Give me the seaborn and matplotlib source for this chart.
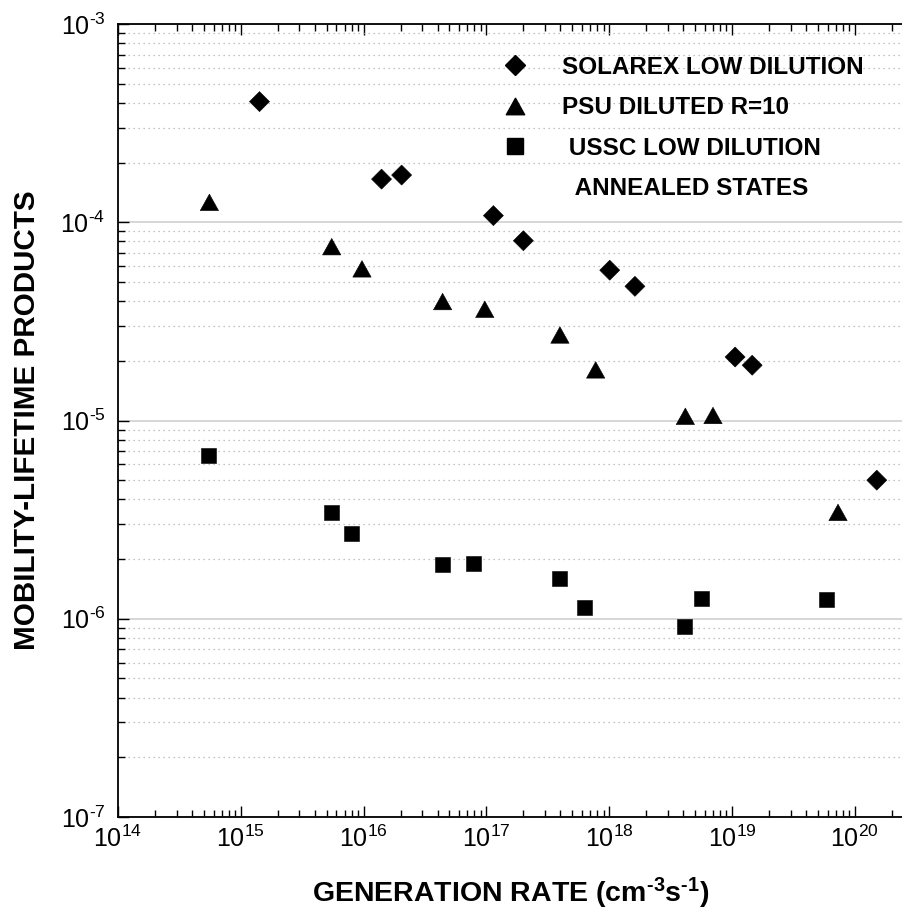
import numpy as np
import pandas as pd
import matplotlib
matplotlib.use("Agg")
import matplotlib.pyplot as plt
import seaborn as sns
from matplotlib.path import Path
from matplotlib.lines import Line2D
from matplotlib.ticker import LogLocator, NullFormatter, FuncFormatter

# ---- data ----
series_names = ["SOLAREX LOW DILUTION", "PSU DILUTED R=10", "USSC LOW DILUTION"]
extra_legend_text = "ANNEALED STATES"

solarex_x = [1.42e15, 1.40e16, 2.04e16, 1.14e17, 2.0e17, 1.01e18, 1.62e18, 1.06e19, 1.46e19, 1.51e20]
solarex_y = [4.06e-4, 1.65e-4, 1.73e-4, 1.08e-4, 8.07e-5, 5.73e-5, 4.75e-5, 2.09e-5, 1.90e-5, 5.0e-6]

psu_x = [5.55e14, 5.50e15, 9.7e15, 4.4e16, 9.7e16, 3.97e17, 7.76e17, 4.17e18, 7.0e18, 7.3e19]
psu_y = [1.26e-4, 7.53e-5, 5.82e-5, 3.98e-5, 3.64e-5, 2.70e-5, 1.80e-5, 1.05e-5, 1.06e-5, 3.44e-6]

ussc_x = [5.48e14, 5.49e15, 7.9e15, 4.39e16, 7.87e16, 3.95e17, 6.28e17, 4.1e18, 5.66e18, 5.93e19]
ussc_y = [6.65e-6, 3.45e-6, 2.68e-6, 1.87e-6, 1.90e-6, 1.59e-6, 1.14e-6, 9.14e-7, 1.26e-6, 1.25e-6]

x_label = "GENERATION RATE (cm$^{\\mathbf{\u20103}}$s$^{\\mathbf{\u20101}}$)"
y_label = "MOBILITY-LIFETIME PRODUCTS"

df = pd.DataFrame({
    "x": solarex_x + psu_x + ussc_x,
    "y": solarex_y + psu_y + ussc_y,
    "series": [series_names[0]] * len(solarex_x)
              + [series_names[1]] * len(psu_x)
              + [series_names[2]] * len(ussc_x),
})

# ---- style ----
sns.set_style("white")
plt.rcParams["font.family"] = ["Liberation Sans", "DejaVu Sans"]
plt.rcParams["mathtext.fontset"] = "custom"
plt.rcParams["mathtext.rm"] = "Liberation Sans"
plt.rcParams["mathtext.it"] = "Liberation Sans:italic"
plt.rcParams["mathtext.bf"] = "Liberation Sans:bold"
plt.rcParams["axes.unicode_minus"] = False
for key in ["text.color", "axes.labelcolor", "xtick.color", "ytick.color",
            "xtick.labelcolor", "ytick.labelcolor", "axes.edgecolor"]:
    plt.rcParams[key] = "black"

tri = Path([(0, 0.9), (-1, -0.9), (1, -0.9), (0, 0.9)],
           [Path.MOVETO, Path.LINETO, Path.LINETO, Path.CLOSEPOLY])
markers = {series_names[0]: "D", series_names[1]: tri, series_names[2]: "s"}
sizes = {series_names[0]: 104, series_names[1]: 174, series_names[2]: 117}
palette = {n: "black" for n in series_names}

fig = plt.figure(figsize=(9.03, 9.11), dpi=100)
ax = fig.add_axes([118 / 903, 1 - 817 / 911, 1 - 118 / 903, (817 - 24) / 911])

sns.scatterplot(data=df, x="x", y="y", hue="series", style="series", size="series",
                palette=palette, markers=markers, sizes=sizes,
                edgecolor="black", linewidth=0.4, legend=False, ax=ax, zorder=3)

ax.set_xscale("log")
ax.set_yscale("log")
ax.set_xlim(1e14, 10 ** (14 + 785 / 122.8))
ax.set_ylim(1e-7, 1e-3)


def pow10(v, pos):
    e = int(round(np.log10(v)))
    s = str(e).replace("-", "\u2010")
    return "$\\mathdefault{10^{" + s + "}}$"


ax.xaxis.set_major_locator(LogLocator(base=10, numticks=20))
ax.xaxis.set_minor_locator(LogLocator(base=10, subs=np.arange(2, 10), numticks=100))
ax.xaxis.set_major_formatter(FuncFormatter(pow10))
ax.xaxis.set_minor_formatter(NullFormatter())
ax.yaxis.set_major_locator(LogLocator(base=10, numticks=20))
ax.yaxis.set_minor_locator(LogLocator(base=10, subs=np.arange(2, 10), numticks=100))
ax.yaxis.set_major_formatter(FuncFormatter(pow10))
ax.yaxis.set_minor_formatter(NullFormatter())

ax.set_axisbelow(True)
ax.grid(False)
ax.yaxis.grid(True, which="major", color="#cfcfcf", linewidth=1.2, linestyle="-")
ax.yaxis.grid(True, which="minor", color="#b0b0b0", linewidth=0.9, linestyle=(0, (1, 3)))

for side in ["left", "bottom", "top"]:
    ax.spines[side].set_visible(True)
    ax.spines[side].set_color("black")
    ax.spines[side].set_linewidth(1.3)
ax.spines["right"].set_visible(False)

ax.tick_params(which="both", direction="in", top=True, right=False, bottom=True, left=True,
               labeltop=False, color="black", width=1.0)
ax.tick_params(which="major", length=8)
ax.tick_params(which="minor", length=5)
ax.tick_params(axis="x", which="major", labelsize=18, pad=6)
ax.tick_params(axis="y", which="major", labelsize=18, pad=9)

ax.set_xlabel(x_label, fontsize=20.5, fontweight="bold", labelpad=17)
ax.set_ylabel(y_label, fontsize=21.3, fontweight="bold", labelpad=14)

handles = [
    Line2D([], [], linestyle="none", marker=markers[n], color="black",
           markersize=np.sqrt(sizes[n]))
    for n in series_names
]
handles.append(Line2D([], [], linestyle="none"))
labels = series_names[:2] + [" " + series_names[2], "  " + extra_legend_text]
ax.legend(handles, labels, loc="upper left", bbox_to_anchor=(0.4924, 0.960),
          frameon=False, borderpad=0, borderaxespad=0, handlelength=0.9,
          handletextpad=1.45, labelspacing=0.72,
          prop={"family": "Liberation Sans", "weight": "bold", "size": 17.5})

fig.savefig("out.png", dpi=100)
